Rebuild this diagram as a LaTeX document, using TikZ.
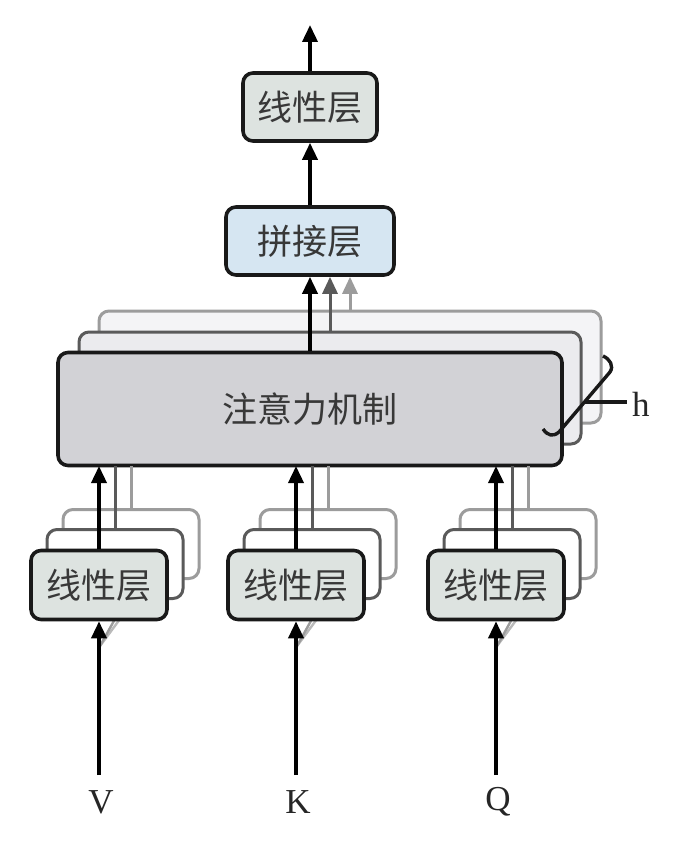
\documentclass[tikz,border=0pt]{standalone}
\usepackage{fontspec}
\setmainfont{Liberation Serif}
\newfontfamily\cjk{Noto Sans CJK SC}
\usetikzlibrary{arrows.meta}
\definecolor{lingreen}{HTML}{DDE3E0}
\definecolor{catblue}{HTML}{D6E6F2}
\definecolor{attgray}{HTML}{D2D2D6}
\definecolor{att2fill}{HTML}{EBEBEE}
\definecolor{att3fill}{HTML}{F4F4F6}
\definecolor{midgray}{HTML}{5A5A5A}
\definecolor{ltgray}{HTML}{9C9C9C}
\definecolor{txtgray}{HTML}{383838}
\tikzset{
  box/.style={draw=black!90, line width=3.6pt, rounded corners=10pt, inner sep=0pt,
    font=\cjk\fontsize{35}{40}\selectfont, text=txtgray},
  linbox/.style={box, fill=lingreen, minimum width=136pt, minimum height=69pt},
  back2/.style={draw=midgray, line width=3pt, rounded corners=10pt, fill=white, minimum width=136pt, minimum height=69pt},
  back3/.style={draw=ltgray, line width=3pt, rounded corners=10pt, fill=white, minimum width=136pt, minimum height=69pt},
  arr/.style={line width=3.6pt, -{Triangle[length=17pt,width=15pt]}},
  garr2/.style={line width=3pt, draw=midgray, -{Triangle[length=17pt,width=15pt]}, fill=midgray},
  garr3/.style={line width=3pt, draw=ltgray, -{Triangle[length=17pt,width=15pt]}, fill=ltgray},
  gline2/.style={line width=3pt, draw=midgray},
  gline3/.style={line width=3pt, draw=ltgray},
  letter/.style={font=\fontsize{35}{40}\selectfont, text=black!85, inner sep=0pt},
}
\begin{document}
\begin{tikzpicture}[x=1pt,y=-1pt]
\useasboundingbox[fill=white] (0,0) rectangle (696,842);

% top linear layer and concat layer
\node[linbox, minimum width=134pt, minimum height=68pt] (toplin) at (310,107) {线性层};
\coordinate (topend) at (310,25);
\draw[arr] (toplin.north) -- (topend);
\node[box, fill=catblue, minimum width=168pt, minimum height=68pt] (concat) at (310,241) {拼接层};
\draw[arr] (concat.north) -- (toplin.south);

% attention stack
\node[draw=ltgray, line width=3pt, rounded corners=10pt, fill=att3fill,
  minimum width=502pt, minimum height=112pt] (att3) at (350,367) {};
\node[draw=midgray, line width=3pt, rounded corners=10pt, fill=att2fill,
  minimum width=502pt, minimum height=112pt] (att2) at (330,388) {};
\draw[garr3] (att3.north) -- ([xshift=40pt]concat.south);
\draw[garr2] (att2.north) -- ([xshift=20pt]concat.south);
\node[box, fill=attgray, minimum width=504pt, minimum height=113pt] (att) at (310,409) {注意力机制};
\draw[arr] (att.north) -- (concat.south);

% h bracket
\coordinate (hs) at (543,429);
\coordinate (hb) at (559,432);
\coordinate (ht) at (610,372);
\coordinate (he) at (603,356);
\coordinate (hm) at (585,402);
\coordinate (hr) at (627,402);
\draw[line width=3.4pt, black!90] (hs) .. controls (548,436) and (553,437) .. (hb) -- (ht) .. controls (614,366) and (610,359) .. (he);
\draw[line width=3.4pt, black!90] (hm) -- (hr);
\node[letter, anchor=west] (hlab) at (632,404) {h};

% bottom linear stacks
\foreach \cx/\lab/\nm in {99/V/v, 296/K/k, 496/Q/q}{
  \node[back3] (\nm3) at (\cx+32,544) {};
  \draw[gline3] (\nm3.north) -- (\cx+32,466);
  \node[back2] (\nm2) at (\cx+16,564) {};
  \draw[gline2] (\nm2.north) -- (\cx+16,466);
  \coordinate (\nm d) at (\cx+1,646);
  \coordinate (\nm d3) at (\cx+21,619);
  \coordinate (\nm d2) at (\cx+16,619);
  \draw[line width=2.4pt, ltgray!70] (\nm d) -- (\nm d3);
  \draw[line width=2.4pt, ltgray] (\nm d) -- (\nm d2);
  \node[linbox] (\nm1) at (\cx,585) {线性层};
  \draw[arr] (\nm1.north) -- (\cx,466);
  \coordinate (\nm in) at (\cx,775);
  \draw[arr] (\nm in) -- (\nm1.south);
  \node[letter] (\nm lab) at (\cx+2,802) {\lab};
}
\end{tikzpicture}
\end{document}
